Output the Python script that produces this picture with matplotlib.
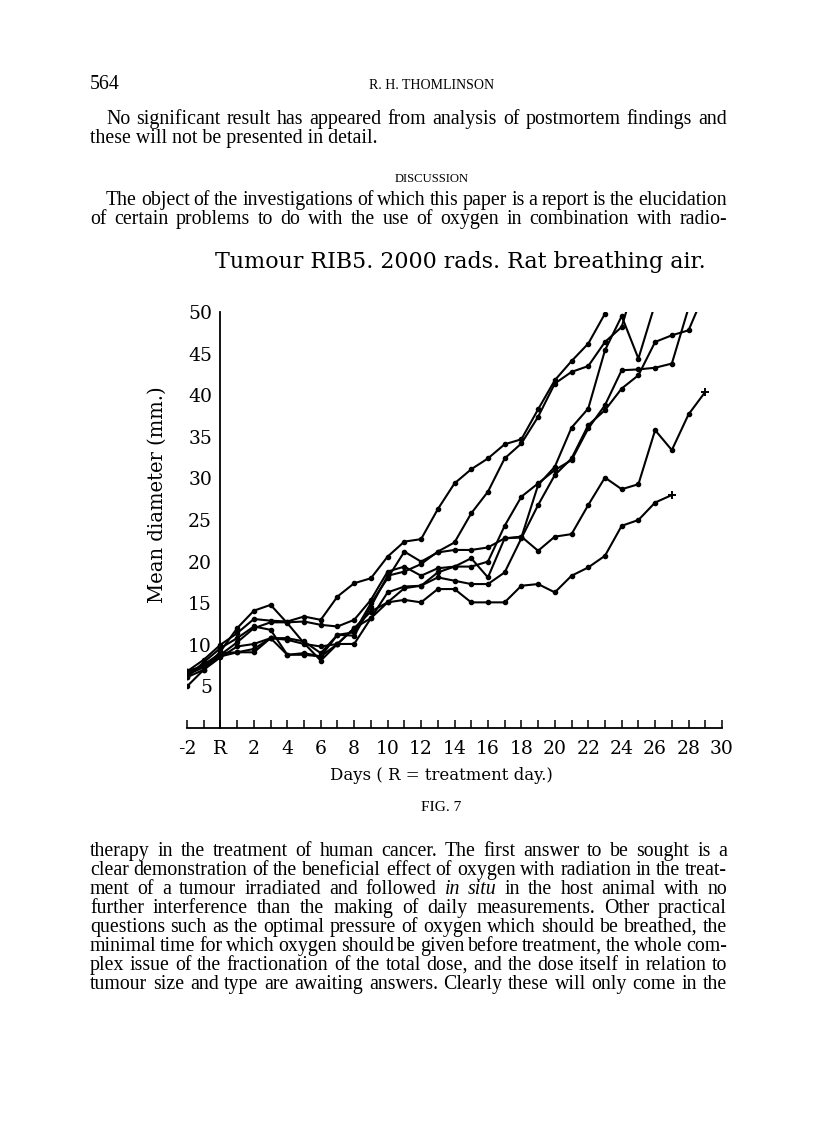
import matplotlib
matplotlib.use("Agg")
import matplotlib.pyplot as plt
import numpy as np

W, H = 816, 1136
FIRST_DAY = -2

# ---- data (mean tumour diameter, mm) ----
series_A = [6.8, 8.2, 10.0, 11.4, 13.1, 12.9, 12.8, 13.4, 13.0, 15.8, 17.4, 18.0, 20.6, 22.4,
            22.7, 26.3, 29.4, 31.1, 32.4, 34.1, 34.7, 38.3, 41.8, 44.1, 46.2, 49.8]
series_B = [6.1, 7.9, 9.6, 10.8, 12.2, 11.8, 8.8, 9.0, 8.6, 11.2, 11.1, 14.6, 18.3, 18.8,
            19.7, 21.2, 22.3, 25.8, 28.4, 32.4, 34.2, 37.4, 41.4, 42.8, 43.5, 46.4, 48.2, 55.0]
series_C = [5.0, 7.0, 9.2, 12.0, 14.1, 14.8, 12.6, 10.2, 8.1, 10.1, 12.0, 13.2, 16.3, 17.0,
            17.1, 18.7, 19.4, 20.4, 18.1, 22.8, 22.9, 29.2, 31.4, 36.1, 38.4, 45.4, 49.5, 44.4, 51.0]
series_D = [6.8, 7.5, 8.8, 10.3, 12.0, 12.7, 12.7, 12.8, 12.4, 12.2, 13.0, 15.4, 18.8, 19.4,
            18.3, 19.2, 19.4, 19.4, 20.0, 24.3, 27.8, 29.4, 31.0, 32.2, 36.0, 38.8, 43.0, 43.1,
            43.3, 43.8, 50.5]
series_E = [6.1, 7.0, 8.5, 9.8, 10.1, 10.8, 10.6, 10.1, 9.8, 10.1, 12.0, 14.0, 15.1, 16.8,
            17.1, 18.1, 17.7, 17.3, 17.3, 18.7, 22.8, 26.8, 30.4, 32.4, 36.4, 38.2, 40.8, 42.4,
            46.4, 47.2, 47.8, 52.5]
series_F = [6.5, 7.6, 9.0, 9.1, 9.1, 10.8, 10.8, 10.4, 9.0, 11.2, 11.5, 15.0, 18.0, 21.2,
            20.0, 21.1, 21.4, 21.4, 21.7, 22.8, 23.0, 21.3, 23.0, 23.3, 26.8, 30.1, 28.7, 29.3,
            35.8, 33.4, 37.7, 40.4]
series_G = [6.4, 7.3, 8.6, 9.1, 9.5, 10.8, 8.8, 8.8, 8.6, 10.1, 10.1, 13.2, 15.1, 15.4,
            15.1, 16.7, 16.7, 15.1, 15.1, 15.1, 17.1, 17.3, 16.3, 18.3, 19.3, 20.7, 24.3, 25.0,
            27.1, 28.0]
dot_series = [series_A, series_B, series_C, series_D, series_E]
cross_end_series = [series_F, series_G]   # last point marked "+"

x_tick_days = list(range(-2, 31, 2))
x_tick_labels = ["-2", "R"] + [str(d) for d in range(2, 31, 2)]
y_tick_values = [5, 10, 15, 20, 25, 30, 35, 40, 45, 50]

title = "Tumour RIB5. 2000 rads. Rat breathing air."
ylabel = "Mean diameter (mm.)"
xlabel = "Days ( R = treatment day.)"

para_top = [
    "No significant result has appeared from analysis of postmortem findings and",
    "these will not be presented in detail.",
]
para_disc = [
    "The object of the investigations of which this paper is a report is the elucidation",
    "of certain problems to do with the use of oxygen in combination with radio-",
]
para_bottom = [
    "therapy in the treatment of human cancer.  The first answer to be sought is a",
    "clear demonstration of the beneficial effect of oxygen with radiation in the treat-",
    "ment of a tumour irradiated and followed *in *situ in the host animal with no",
    "further interference than the making of daily measurements.  Other practical",
    "questions such as the optimal pressure of oxygen which should be breathed, the",
    "minimal time for which oxygen should be given before treatment, the whole com-",
    "plex issue of the fractionation of the total dose, and the dose itself in relation to",
    "tumour size and type are awaiting answers.  Clearly these will only come in the",
]

# ---- figure ----
fig = plt.figure(figsize=(W / 100, H / 100), dpi=100)
fig.patch.set_facecolor("white")
r = fig.canvas.get_renderer()
SERIF = "Liberation Serif"
CHART = "DejaVu Serif"


def fx(x):
    return x / W


def fy(y):
    return 1 - y / H


def put(x, y, s, width=None, height=None, size=12, ha="center", va="center",
        family=SERIF, style="normal", rotation=0, weight="normal"):
    t = fig.text(fx(x), fy(y), s, ha=ha, va=va, fontsize=size, family=family,
                 style=style, rotation=rotation, weight=weight)
    if width is not None or height is not None:
        bb = t.get_window_extent(renderer=r)
        if width is not None:
            t.set_fontsize(size * width / bb.width)
        else:
            t.set_fontsize(size * height / bb.height)
    return t


def justify(y, line, x0, x1, fs):
    toks = line.split()
    arts, widths = [], []
    for tok in toks:
        it = tok.startswith("*")
        word = tok.lstrip("*")
        t = fig.text(0, 0, word, fontsize=fs, family=SERIF,
                     style="italic" if it else "normal", ha="left", va="baseline")
        widths.append(t.get_window_extent(renderer=r).width)
        arts.append(t)
    gap = (x1 - x0 - sum(widths)) / max(len(toks) - 1, 1)
    x = x0
    for t, w in zip(arts, widths):
        t.set_position((fx(x), fy(y)))
        x += w + gap


# body font size: fit the widest natural line
probe = fig.text(0, 0, para_top[0], fontsize=10, family=SERIF)
nat = probe.get_window_extent(renderer=r).width
probe.remove()
FS = 10 * (727 - 106) / nat * 0.98

# header
put(90, 89, "564", ha="left", va="baseline", size=FS)
put(432, 89, "R. H. THOMLINSON", width=125, va="baseline", size=9)

justify(124, para_top[0], 106, 727, FS)
put(90, 143, para_top[1], ha="left", va="baseline", size=FS)
put(432, 182, "DISCUSSION", width=75, va="baseline", size=8)
justify(205, para_disc[0], 106, 727, FS)
justify(224, para_disc[1], 90, 727, FS)

for i, line in enumerate(para_bottom):
    justify(856 + 19 * i, line, 90, 727, FS)

put(441, 811, "FIG. 7", width=40, va="baseline", size=8)

# chart title and labels
put(460, 262, title, width=490, size=18, family=CHART)
put(157, 495, ylabel, height=217, size=14, family=CHART, rotation=90)
put(441, 776, xlabel, width=223, size=14, family=CHART)

# ---- axes ----
x0, x1 = 187, 722
y0, y1 = 728, 312
ax = fig.add_axes([fx(x0), fy(y0), (x1 - x0) / W, (y0 - y1) / H])
ax.set_xlim(-2, 30)
ax.set_ylim(0, 50)
ax.patch.set_alpha(0)
for side in ("top", "right"):
    ax.spines[side].set_visible(False)
ax.spines["left"].set_position(("data", 0))
for side in ("left", "bottom"):
    ax.spines[side].set_linewidth(1.3)
    ax.spines[side].set_color("black")

ax.set_xticks(x_tick_days)
ax.set_xticklabels(x_tick_labels, family=CHART, fontsize=13.5)
ax.set_xticks(list(range(-1, 30, 2)), minor=True)
ax.tick_params(axis="x", which="both", direction="in", length=6, width=1.1, pad=9)

ax.set_yticks(y_tick_values)
ax.set_yticklabels([str(v) for v in y_tick_values], family=CHART, fontsize=13.5)
ax.tick_params(axis="y", which="major", length=0, pad=6)
ax.set_yticks([50], minor=True)
ax.tick_params(axis="y", which="minor", direction="in", length=6, width=1.1)

for s in dot_series:
    d = np.arange(FIRST_DAY, FIRST_DAY + len(s))
    ax.plot(d, s, "-", color="black", lw=1.5, marker="o", ms=3.0, clip_on=True)
for s in cross_end_series:
    d = np.arange(FIRST_DAY, FIRST_DAY + len(s))
    ax.plot(d, s, "-", color="black", lw=1.5, marker="o", ms=3.0,
            markevery=slice(0, len(s) - 1), clip_on=True)
    ax.plot(d[-1:], s[-1:], linestyle="none", marker="+", ms=6, mew=1.4, color="black")

fig.savefig("out.png", dpi=100, facecolor="white")
